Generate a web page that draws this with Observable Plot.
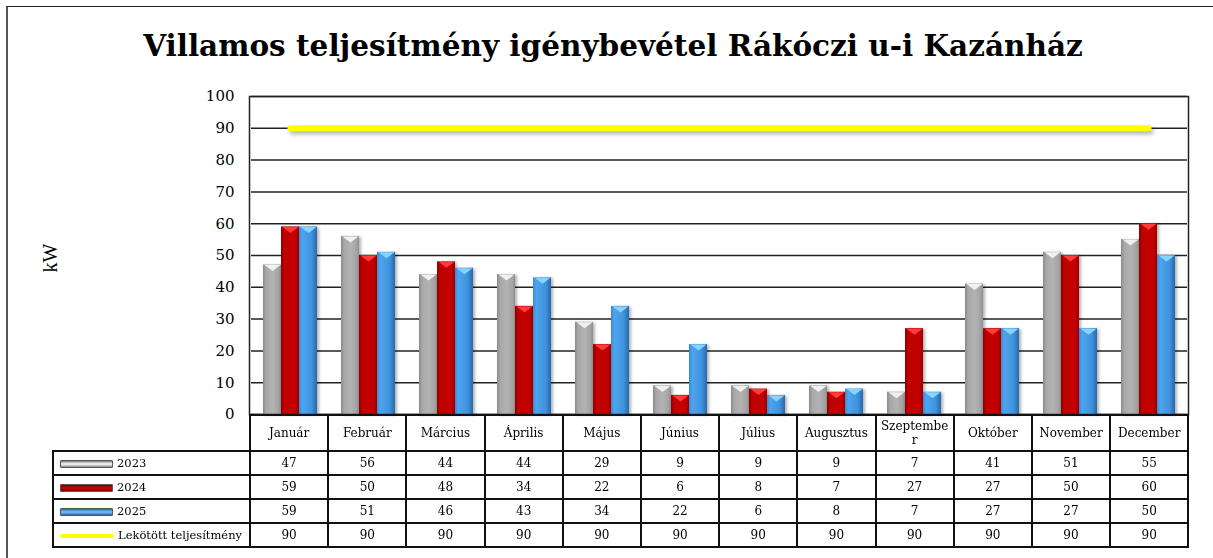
<!DOCTYPE html>
<html><head><meta charset="utf-8">
<script src="https://cdn.jsdelivr.net/npm/d3@7"></script>
<script src="https://cdn.jsdelivr.net/npm/@observablehq/plot@0.6"></script>
<style>
html,body{margin:0;padding:0;background:#fff;overflow:hidden;}
#wrap{position:relative;width:1213px;height:558px;font-family:"DejaVu Serif",Georgia,serif;color:#000;overflow:hidden;}
#border{position:absolute;left:6px;top:6px;width:1230px;height:600px;border-left:2px solid #555;border-top:1px solid #222;}
#title{position:absolute;left:0;top:27px;width:1226px;text-align:center;font-weight:bold;font-size:29.5px;line-height:38px;}
#ylabel{position:absolute;left:50px;top:258px;transform:translate(-50%,-50%) rotate(-90deg);font-family:"Liberation Serif",serif;font-size:20px;white-space:nowrap;}
.layer{position:absolute;left:0;top:0;}
#tbl{position:absolute;left:52px;top:414px;border-collapse:collapse;table-layout:fixed;width:1135px;font-size:12px;}
#tbl td{border:2px solid #111;text-align:center;padding:0;overflow:hidden;}
#tbl tr.cat td{height:34px;line-height:14px;padding:0 3px;word-break:break-all;}
#tbl tr.val td{height:22px;line-height:14px;}
#tbl td.blank{border:none;}
#tbl td.leg{text-align:left;padding-left:6px;white-space:nowrap;font-size:11.5px;}
.sw{display:inline-block;vertical-align:middle;width:51px;height:6px;margin-right:4px;border:1px solid #555;border-radius:1px;}
</style>
</head><body>
<div id="wrap">
  <div id="border"></div>
  <div id="title"></div>
  <div id="ylabel"></div>
</div>
<script>
// ---- data ----
const title = "Villamos teljesítmény igénybevétel Rákóczi u-i Kazánház";
const yLabel = "kW";
const months = ["Január","Február","Március","Április","Május","Június","Július","Augusztus","Szeptember","Október","November","December"];
const seriesNames = ["2023","2024","2025"];
const v2023 = [47,56,44,44,29,9,9,9,7,41,51,55];
const v2024 = [59,50,48,34,22,6,8,7,27,27,50,60];
const v2025 = [59,51,46,43,34,22,6,8,7,27,27,50];
const lineName = "Lekötött teljesítmény";
const contracted = [90,90,90,90,90,90,90,90,90,90,90,90];
const yTicks = [0,10,20,30,40,50,60,70,80,90,100];

// ---- styles ----
const seriesValues = {"2023": v2023, "2024": v2024, "2025": v2025};
const gradStops = {
  "2023": [["0%","#8a8a8a"],["18%","#a9a9a9"],["55%","#b3b3b3"],["85%","#a4a4a4"],["100%","#8e8e8e"]],
  "2024": [["0%","#8a0000"],["18%","#c00000"],["80%","#c40000"],["100%","#9a0000"]],
  "2025": [["0%","#3a88d2"],["18%","#4ea4ee"],["70%","#3f93de"],["100%","#2a68a8"]]
};
const bevelColor = {"2023":"#f0f0f0","2024":"#ff3b3b","2025":"#86d4ff"};
const swatchBg = {
  "2023":"linear-gradient(#7a7a7a,#ffffff 50%,#8a8a8a)",
  "2024":"linear-gradient(#6a0000,#e00000 50%,#700000)",
  "2025":"linear-gradient(#2a6aa8,#79c6f7 50%,#2a6aa8)"
};

document.getElementById("title").textContent = title;
document.getElementById("ylabel").textContent = yLabel;

const rows = months.flatMap((m, i) => seriesNames.map(s => ({month: m, series: s, value: seriesValues[s][i]})));

const bevel = {
  draw(ctx, size) {
    const r = Math.sqrt(size / Math.PI);
    ctx.moveTo(-r, 0);
    ctx.lineTo(r, 0);
    ctx.lineTo(0, r * 0.75);
    ctx.closePath();
  }
};

const common = {width: 1213, height: 432, marginLeft: 249, marginRight: 25, marginTop: 96, marginBottom: 18};

const A = Plot.plot({
  ...common,
  style: {fontFamily: "DejaVu Serif, serif", fontSize: "15px", color: "#000", background: "transparent"},
  fx: {domain: months, padding: 0, axis: null},
  x: {domain: seriesNames, paddingInner: 0, paddingOuter: 0.635, axis: null},
  y: {domain: [0, 100], axis: null},
  marks: [
    Plot.gridY(yTicks, {stroke: "#222", strokeOpacity: 1, strokeWidth: 1.5}),
    Plot.axisY(yTicks, {tickSize: 0, tickPadding: 17, label: null, fontSize: 15}),
    ...seriesNames.map(s => Plot.barY(rows.filter(d => d.series === s), {fx: "month", x: "series", y: "value", fill: `url(#grad${s})`})),
    ...seriesNames.map(s => Plot.dot(rows.filter(d => d.series === s), {fx: "month", x: "series", y: "value", symbol: bevel, r: 8, fill: bevelColor[s], stroke: "none"}))
  ]
});
// gradient defs
const ns = "http://www.w3.org/2000/svg";
const defs = document.createElementNS(ns, "defs");
for (const s of seriesNames) {
  const g = document.createElementNS(ns, "linearGradient");
  g.setAttribute("id", "grad" + s);
  g.setAttribute("x1", "0"); g.setAttribute("x2", "1"); g.setAttribute("y1", "0"); g.setAttribute("y2", "0");
  for (const [o, c] of gradStops[s]) {
    const st = document.createElementNS(ns, "stop");
    st.setAttribute("offset", o); st.setAttribute("stop-color", c);
    g.appendChild(st);
  }
  defs.appendChild(g);
}
A.insertBefore(defs, A.firstChild);
A.querySelectorAll('g[aria-label="bar"]').forEach(g => g.style.filter = "drop-shadow(2px 1px 1.5px rgba(0,0,0,0.3))");
A.classList.add("layer");

const B = Plot.plot({
  ...common,
  style: {background: "transparent"},
  x: {type: "point", domain: months, padding: 0.5, axis: null},
  y: {domain: [0, 100], axis: null},
  marks: [
    Plot.lineY(months.map((m, i) => ({month: m, v: contracted[i]})), {x: "month", y: "v", stroke: "#ffff00", strokeWidth: 6, strokeLinecap: "round"}),
    Plot.frame({stroke: "#222", strokeWidth: 1.5})
  ]
});
B.querySelectorAll('g[aria-label="line"]').forEach(g => g.style.filter = "drop-shadow(2px 3px 2px rgba(0,0,0,0.3))");
B.classList.add("layer");

const wrap = document.getElementById("wrap");
wrap.appendChild(A);
wrap.appendChild(B);

// data table
const tbl = document.createElement("table");
tbl.id = "tbl";
const cg = document.createElement("colgroup");
const c0 = document.createElement("col"); c0.style.width = "197px"; cg.appendChild(c0);
months.forEach(() => { const c = document.createElement("col"); c.style.width = "78.2px"; cg.appendChild(c); });
tbl.appendChild(cg);
const catRow = tbl.insertRow(); catRow.className = "cat";
const blank = catRow.insertCell(); blank.className = "blank";
months.forEach(m => { catRow.insertCell().textContent = m; });
const legendRows = [
  ...seriesNames.map(s => ({name: s, values: seriesValues[s], bg: swatchBg[s], line: false})),
  {name: lineName, values: contracted, bg: "#ffff00", line: true}
];
for (const r of legendRows) {
  const tr = tbl.insertRow(); tr.className = "val";
  const lc = tr.insertCell(); lc.className = "leg";
  const sw = document.createElement("span"); sw.className = "sw";
  sw.style.background = r.bg;
  if (r.line) { sw.style.border = "none"; sw.style.height = "4px"; sw.style.width = "54px"; sw.style.borderRadius = "2px"; }
  lc.appendChild(sw);
  lc.appendChild(document.createTextNode(r.name));
  r.values.forEach(v => { tr.insertCell().textContent = v; });
}
wrap.appendChild(tbl);
</script>
</body></html>
